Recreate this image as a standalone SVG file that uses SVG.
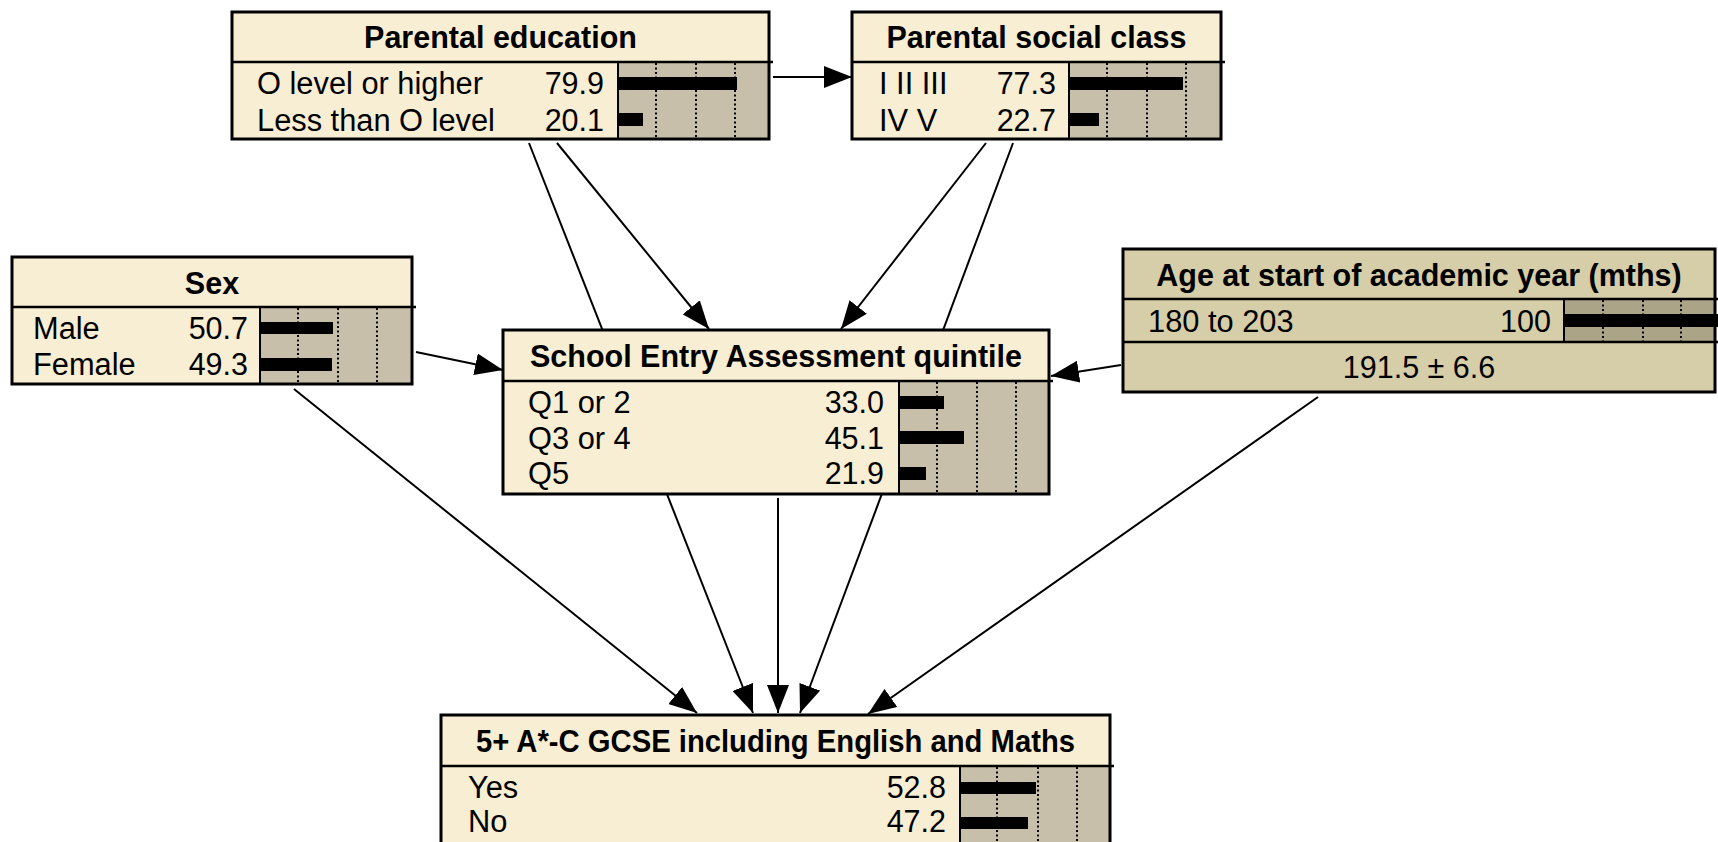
<svg xmlns="http://www.w3.org/2000/svg" width="1718" height="842" viewBox="0 0 1718 842">
  <defs>
    <style>
      .bg{fill:#F8EED4}
      .bgAge{fill:#D6CEA8}
      .frame{fill:none;stroke:#000;stroke-width:3}
      .bars{fill:#C7BFA9;stroke:#000;stroke-width:2}
      .barsAge{fill:#ACA487;stroke:#000;stroke-width:2}
      .div{stroke:#000;stroke-width:2.5}
      .grid{stroke:#000;stroke-width:2;stroke-dasharray:2 2.5}
      .bar{fill:#000}
      .title{font-family:"Liberation Sans",Arial,sans-serif;font-weight:bold;font-size:30.5px;text-anchor:middle;fill:#000}
      .lbl{font-family:"Liberation Sans",Arial,sans-serif;font-size:30.8px;fill:#000}
      .val{font-family:"Liberation Sans",Arial,sans-serif;font-size:30.5px;text-anchor:end;fill:#000}
      .mid{font-family:"Liberation Sans",Arial,sans-serif;font-size:30.5px;text-anchor:middle;fill:#000}
      .edge{fill:none;stroke:#000;stroke-width:2;marker-end:url(#ah)}
    </style>
    <marker id="ah" markerUnits="userSpaceOnUse" markerWidth="28" markerHeight="22" refX="28" refY="11" orient="auto" viewBox="0 0 28 22">
      <path d="M0,0 L28,11 L0,22 Z" fill="#000"/>
    </marker>
  </defs>

  <rect width="1718" height="842" fill="#fff"/>

  <!-- links between nodes -->
  <g id="connectors">
    <path class="edge" d="M773,77 L852,77"/>
    <path class="edge" d="M557,143 L709,329"/>
    <path class="edge" d="M529,143 L753,713"/>
    <path class="edge" d="M986,143 L841,329"/>
    <path class="edge" d="M1013,143 L800,713"/>
    <path class="edge" d="M416,352 L503,370"/>
    <path class="edge" d="M294,389 L697,713"/>
    <path class="edge" d="M1121,365 L1051,376"/>
    <path class="edge" d="M1318,397 L868,714"/>
    <path class="edge" d="M778,498 L778,713"/>
  </g>

  <!-- Parental education -->
  <g id="parental-education">
    <rect class="bg" x="232" y="12" width="537" height="127"/>
    <rect class="bars" x="618" y="62" width="151" height="77"/>
    <line class="grid" x1="656" y1="63" x2="656" y2="138"/>
    <line class="grid" x1="696" y1="63" x2="696" y2="138"/>
    <line class="grid" x1="735" y1="63" x2="735" y2="138"/>
    <rect class="bar" x="618" y="77" width="119" height="13"/>
    <rect class="bar" x="618" y="113" width="25" height="13"/>
    <line class="div" x1="232" y1="62" x2="773" y2="62"/>
    <rect class="frame" x="232" y="12" width="537" height="127"/>
    <text class="title" x="500.5" y="48">Parental education</text>
    <text class="lbl" x="257" y="94">O level or higher</text>
    <text class="val" x="604" y="94">79.9</text>
    <text class="lbl" x="257" y="131">Less than O level</text>
    <text class="val" x="604" y="131">20.1</text>
  </g>

  <!-- Parental social class -->
  <g id="parental-social-class">
    <rect class="bg" x="852" y="12" width="369" height="127"/>
    <rect class="bars" x="1069" y="62" width="152" height="77"/>
    <line class="grid" x1="1107" y1="63" x2="1107" y2="138"/>
    <line class="grid" x1="1147" y1="63" x2="1147" y2="138"/>
    <line class="grid" x1="1186" y1="63" x2="1186" y2="138"/>
    <rect class="bar" x="1069" y="77" width="114" height="13"/>
    <rect class="bar" x="1069" y="113" width="30" height="13"/>
    <line class="div" x1="852" y1="62" x2="1225" y2="62"/>
    <rect class="frame" x="852" y="12" width="369" height="127"/>
    <text class="title" x="1036.5" y="48">Parental social class</text>
    <text class="lbl" x="879" y="94">I II III</text>
    <text class="val" x="1056" y="94">77.3</text>
    <text class="lbl" x="879" y="131">IV V</text>
    <text class="val" x="1056" y="131">22.7</text>
  </g>

  <!-- Sex -->
  <g id="sex">
    <rect class="bg" x="12" y="257" width="400" height="127"/>
    <rect class="bars" x="260" y="307" width="152" height="77"/>
    <line class="grid" x1="298" y1="308" x2="298" y2="383"/>
    <line class="grid" x1="338" y1="308" x2="338" y2="383"/>
    <line class="grid" x1="377" y1="308" x2="377" y2="383"/>
    <rect class="bar" x="260" y="322" width="73" height="12"/>
    <rect class="bar" x="260" y="358" width="72" height="13"/>
    <line class="div" x1="12" y1="307" x2="416" y2="307"/>
    <rect class="frame" x="12" y="257" width="400" height="127"/>
    <text class="title" x="212" y="294">Sex</text>
    <text class="lbl" x="33" y="339">Male</text>
    <text class="val" x="248" y="339">50.7</text>
    <text class="lbl" x="33" y="375">Female</text>
    <text class="val" x="248" y="375">49.3</text>
  </g>

  <!-- School Entry Assessment quintile -->
  <g id="school-entry-assessment">
    <rect class="bg" x="503" y="330" width="546" height="164"/>
    <rect class="bars" x="899" y="381" width="150" height="113"/>
    <line class="grid" x1="937" y1="382" x2="937" y2="493"/>
    <line class="grid" x1="977" y1="382" x2="977" y2="493"/>
    <line class="grid" x1="1016" y1="382" x2="1016" y2="493"/>
    <rect class="bar" x="899" y="396" width="45" height="13"/>
    <rect class="bar" x="899" y="431" width="65" height="13"/>
    <rect class="bar" x="899" y="467" width="27" height="13"/>
    <line class="div" x1="503" y1="381" x2="1053" y2="381"/>
    <rect class="frame" x="503" y="330" width="546" height="164"/>
    <text class="title" x="776" y="367">School Entry Assessment quintile</text>
    <text class="lbl" x="528" y="413">Q1 or 2</text>
    <text class="val" x="884" y="413">33.0</text>
    <text class="lbl" x="528" y="449">Q3 or 4</text>
    <text class="val" x="884" y="449">45.1</text>
    <text class="lbl" x="528" y="484">Q5</text>
    <text class="val" x="884" y="484">21.9</text>
  </g>

  <!-- Age at start of academic year -->
  <g id="age-at-start">
    <rect class="bgAge" x="1123" y="249" width="592" height="143"/>
    <rect class="barsAge" x="1564" y="299" width="151" height="43"/>
    <line class="grid" x1="1603" y1="300" x2="1603" y2="341"/>
    <line class="grid" x1="1643" y1="300" x2="1643" y2="341"/>
    <line class="grid" x1="1681" y1="300" x2="1681" y2="341"/>
    <rect class="bar" x="1564" y="314" width="154" height="13"/>
    <line class="div" x1="1123" y1="299" x2="1718" y2="299"/>
    <line class="div" x1="1123" y1="342" x2="1718" y2="342"/>
    <rect class="frame" x="1123" y="249" width="592" height="143"/>
    <text class="title" x="1419" y="286">Age at start of academic year (mths)</text>
    <text class="lbl" x="1148" y="332">180 to 203</text>
    <text class="val" x="1551" y="332">100</text>
    <text class="mid" x="1419" y="378">191.5 ± 6.6</text>
  </g>

  <!-- 5+ A*-C GCSE including English and Maths -->
  <g id="gcse-outcome">
    <rect class="bg" x="441" y="715" width="669" height="200"/>
    <rect class="bars" x="960" y="766" width="150" height="149"/>
    <line class="grid" x1="997" y1="767" x2="997" y2="842"/>
    <line class="grid" x1="1038" y1="767" x2="1038" y2="842"/>
    <line class="grid" x1="1077" y1="767" x2="1077" y2="842"/>
    <rect class="bar" x="960" y="782" width="76" height="12"/>
    <rect class="bar" x="960" y="817" width="68" height="12"/>
    <line class="div" x1="441" y1="766" x2="1114" y2="766"/>
    <rect class="frame" x="441" y="715" width="669" height="200"/>
    <text class="title" x="775.5" y="752" textLength="599" lengthAdjust="spacingAndGlyphs">5+ A*-C GCSE including English and Maths</text>
    <text class="lbl" x="468" y="798">Yes</text>
    <text class="val" x="946" y="798">52.8</text>
    <text class="lbl" x="468" y="832">No</text>
    <text class="val" x="946" y="832">47.2</text>
  </g>
</svg>
